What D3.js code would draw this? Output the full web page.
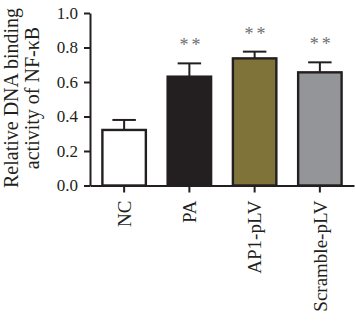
<!DOCTYPE html>
<html>
<head>
<meta charset="utf-8">
<script src="https://cdn.jsdelivr.net/npm/d3@7"></script>
<style>
  html, body { margin: 0; padding: 0; background: #ffffff; }
  svg { display: block; }
  text { font-family: "Liberation Serif", "Times New Roman", serif; fill: #231f20; }
</style>
</head>
<body>
<svg id="chart" width="355" height="326"></svg>
<script>
const categories = ["NC", "PA", "AP1-pLV", "Scramble-pLV"];
const means = [0.322, 0.631, 0.737, 0.656];
const errors = [0.058, 0.077, 0.039, 0.058];
const significance = ["", "**", "**", "**"];
const barColors = ["#ffffff", "#231f20", "#7f7339", "#939598"];
const yTicks = [0.0, 0.2, 0.4, 0.6, 0.8, 1.0];
const yLabelLines = ["Relative DNA binding", "activity of NF-\u03BAB"];

const svg = d3.select("#chart");
const ink = "#231f20";

const x = d3.scaleBand()
  .domain(categories)
  .range([90, 354])
  .paddingInner(0.334)
  .paddingOuter(0.19);

const y = d3.scaleLinear().domain([0, 1]).range([185.5, 13]);

// bars
svg.append("g").selectAll("rect")
  .data(categories)
  .join("rect")
  .attr("x", d => x(d))
  .attr("y", (d, i) => y(means[i]))
  .attr("width", x.bandwidth())
  .attr("height", (d, i) => y(0) - y(means[i]))
  .attr("fill", (d, i) => barColors[i])
  .attr("stroke", ink)
  .attr("stroke-width", 2.4);

// error bars
const eb = svg.append("g").attr("stroke", ink).attr("stroke-width", 2);
categories.forEach((c, i) => {
  const cx = x(c) + x.bandwidth() / 2;
  const capW = x.bandwidth() * 0.27;
  eb.append("line")
    .attr("x1", cx).attr("x2", cx)
    .attr("y1", y(means[i])).attr("y2", y(means[i] + errors[i]));
  eb.append("line")
    .attr("x1", cx - capW).attr("x2", cx + capW)
    .attr("y1", y(means[i] + errors[i])).attr("y2", y(means[i] + errors[i]));
});

// significance stars
svg.append("g").selectAll("text")
  .data(categories)
  .join("text")
  .attr("x", d => x(d) + x.bandwidth() / 2 + 2)
  .attr("y", (d, i) => y(means[i] + errors[i]) - 12)
  .attr("text-anchor", "middle")
  .style("font-size", "18px")
  .style("letter-spacing", "3px")
  .style("fill", "#6d6e71")
  .text((d, i) => significance[i]);

// y axis
const yAxis = svg.append("g")
  .attr("transform", "translate(90,0)")
  .call(d3.axisLeft(y).tickValues(yTicks).tickFormat(d3.format(".1f")).tickSize(6).tickSizeOuter(0).tickPadding(6));
yAxis.select(".domain").attr("stroke", ink).attr("stroke-width", 2);
yAxis.selectAll(".tick line").attr("stroke", ink).attr("stroke-width", 2);
yAxis.selectAll(".tick text").style("font-size", "17px").style("font-family", "'Liberation Serif', serif").attr("fill", ink);

// x axis
const xAxis = svg.append("g")
  .attr("transform", "translate(0," + y(0) + ")")
  .call(d3.axisBottom(x).tickSize(7).tickSizeOuter(0).tickPadding(8));
xAxis.select(".domain").attr("stroke", ink).attr("stroke-width", 2);
xAxis.selectAll(".tick line").attr("stroke", ink).attr("stroke-width", 2);
xAxis.selectAll(".tick text")
  .style("font-size", "19px")
  .style("font-family", "'Liberation Serif', serif")
  .attr("fill", ink)
  .attr("text-anchor", "end")
  .attr("dy", "0.35em")
  .attr("transform", "rotate(-90)")
  .attr("x", -15)
  .attr("y", 0);

// y axis label
const yl = svg.append("text")
  .attr("transform", "translate(0,98) rotate(-90)")
  .attr("text-anchor", "middle")
  .style("font-size", "20px");
yLabelLines.forEach((line, i) => {
  yl.append("tspan")
    .attr("x", 0)
    .attr("y", 17.5 + i * 21)
    .text(line);
});
</script>
</body>
</html>
